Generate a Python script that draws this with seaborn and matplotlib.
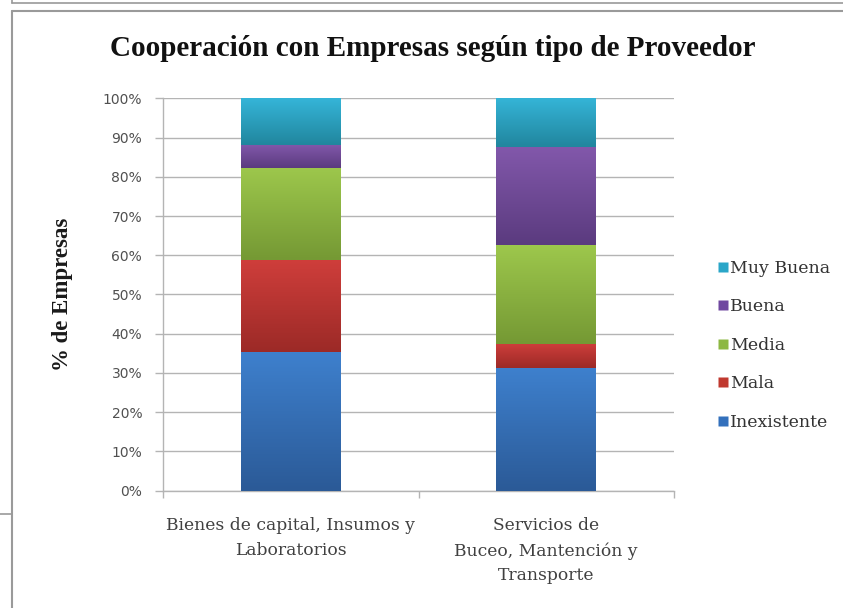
import numpy as np
import pandas as pd
import matplotlib
matplotlib.use("Agg")
import matplotlib.pyplot as plt
import matplotlib.colors as mcolors
from matplotlib.lines import Line2D
import seaborn as sns

# ---- data ----
categories = ["Bienes de capital, Insumos y\nLaboratorios",
              "Servicios de\nBuceo, Mantención y\nTransporte"]
levels = ["Inexistente", "Mala", "Media", "Buena", "Muy Buena"]  # bottom -> top
inexistente = [35.3, 31.25]
mala = [23.5, 6.25]
media = [23.5, 25.0]
buena = [5.9, 25.0]
muy_buena = [11.8, 12.5]
yticklabels = ["0%", "10%", "20%", "30%", "40%", "50%", "60%", "70%", "80%", "90%", "100%"]

series = [inexistente, mala, media, buena, muy_buena]
# gradient colours (top, bottom)
grad = {
    "Inexistente": ("#3E80CD", "#2B5A97"),
    "Mala": ("#CF3E3B", "#9C2A27"),
    "Media": ("#9DC74C", "#759934"),
    "Buena": ("#8258AB", "#5B3B7F"),
    "Muy Buena": ("#35B5D8", "#21869E"),
}
legend_colors = {
    "Inexistente": "#3370BC",
    "Mala": "#C0392F",
    "Media": "#8DB843",
    "Buena": "#7048A0",
    "Muy Buena": "#2AA6C8",
}

cum = np.cumsum(np.array(series), axis=0)
lower = np.vstack([np.zeros(len(categories)), cum[:-1]])

rows = []
for i, lv in enumerate(levels):
    for j, c in enumerate(categories):
        rows.append({"cat": c, "level": lv, "top": cum[i, j], "low": lower[i, j]})
df = pd.DataFrame(rows)

sns.set_theme(style="white")
plt.rcParams["font.family"] = ["DejaVu Serif"]

fig = plt.figure(figsize=(8.43, 6.08), dpi=100)
ax = fig.add_axes([163 / 843, 1 - 490.7 / 608, (674 - 163) / 843, (490.7 - 98.3) / 608])

bw = 0.39
for i, lv in reversed(list(enumerate(levels))):
    sub = df[df.level == lv]
    n_before = len(ax.patches)
    sns.barplot(data=sub, x="cat", y="top", order=categories, color=grad[lv][0],
                width=bw, ax=ax, zorder=2, edgecolor="none", saturation=1)
    new = ax.patches[n_before:]
    top_c = np.array(mcolors.to_rgb(grad[lv][0]))
    bot_c = np.array(mcolors.to_rgb(grad[lv][1]))
    t = np.linspace(0, 1, 64)[:, None]
    img = (top_c[None, :] * (1 - t) + bot_c[None, :] * t)[:, None, :]
    for p, (_, r) in zip(new, sub.iterrows()):
        x0 = p.get_x()
        x1 = x0 + p.get_width()
        im = ax.imshow(img, extent=[x0, x1, r["low"], r["top"]], aspect="auto",
                       origin="upper", zorder=3 + (4 - i) * 0.01, interpolation="bilinear")
        im.set_clip_path(p)

ax.set_xlim(-0.5, 1.5)
ax.set_ylim(0, 100)
ax.set_yticks(np.arange(0, 101, 10))
ax.set_yticklabels(yticklabels, family="DejaVu Sans", color="#505050", fontsize=10)
ax.yaxis.grid(True, color="#B4B4B4", linewidth=1.0, zorder=0)
ax.set_axisbelow(True)
ax.tick_params(axis="y", which="major", length=6, width=1, color="#B4B4B4", pad=9, left=True)
ax.set_xticks([0, 1])
ax.set_xticklabels(categories, fontsize=12.3, color="#404040", linespacing=1.6)
ax.tick_params(axis="x", which="major", length=0, pad=19)
ax.set_xticks([-0.5, 0.5, 1.5], minor=True)
ax.tick_params(axis="x", which="minor", length=5, width=1, color="#B4B4B4", bottom=True)
for s in ["top", "right"]:
    ax.spines[s].set_visible(False)
for s in ["left", "bottom"]:
    ax.spines[s].set_color("#B4B4B4")
    ax.spines[s].set_linewidth(1)
ax.set_xlabel("")
ax.set_ylabel("% de Empresas", fontsize=16.5, fontweight="bold", color="#1a1a1a",
              family="Liberation Serif")
ax.yaxis.set_label_coords(-(163 - 73) / (674 - 163), 0.50)

fig.text(433 / 843, 1 - 48 / 608, "Cooperación con Empresas según tipo de Proveedor",
         ha="center", va="center", fontsize=21, fontweight="bold",
         family="Liberation Serif", color="#111111")

handles = [Line2D([], [], linestyle="none", marker="s", markersize=7,
                  markerfacecolor=legend_colors[lv], markeredgecolor="none")
           for lv in reversed(levels)]
leg = fig.legend(handles, list(reversed(levels)), loc="upper left",
                 bbox_to_anchor=(703 / 843, 1 - 244 / 608), frameon=False,
                 handlelength=0.5, handletextpad=0.15, labelspacing=1.24,
                 prop={"family": "DejaVu Serif", "size": 12.5})
for tx in leg.get_texts():
    tx.set_color("#333333")

# decorative frame lines of the screenshot
lc = "#9A9A9A"
fig.add_artist(Line2D([12 / 843, 1], [1 - 2.5 / 608] * 2, color=lc, lw=1.2, transform=fig.transFigure))
fig.add_artist(Line2D([12 / 843] * 2, [1, 1 - 2.5 / 608], color=lc, lw=1.2, transform=fig.transFigure))
fig.add_artist(Line2D([12 / 843, 1], [1 - 10.5 / 608] * 2, color=lc, lw=1.5, transform=fig.transFigure))
fig.add_artist(Line2D([12 / 843] * 2, [0, 1 - 10.5 / 608], color=lc, lw=1.5, transform=fig.transFigure))
fig.add_artist(Line2D([0, 12 / 843], [1 - 514 / 608] * 2, color=lc, lw=1.2, transform=fig.transFigure))

fig.savefig("out.png", dpi=100)
